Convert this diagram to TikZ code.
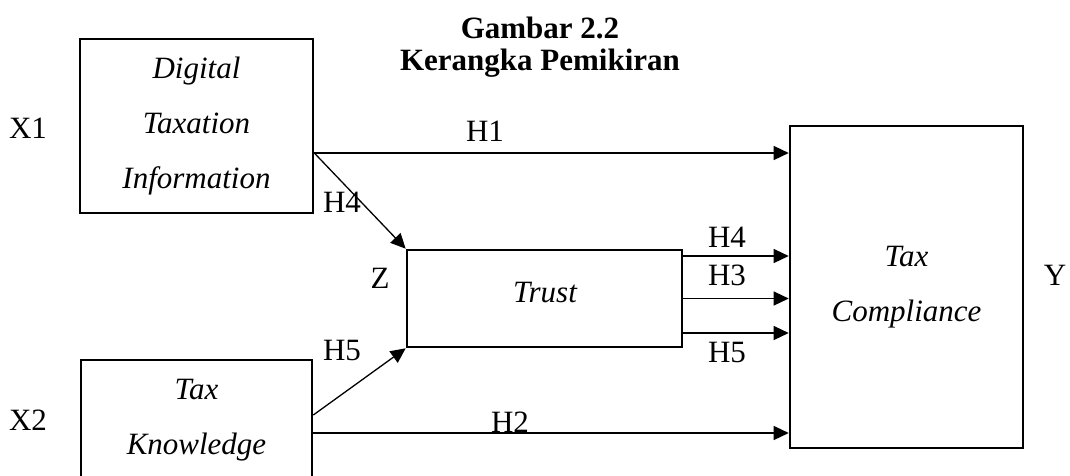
\documentclass[tikz,border=0pt]{standalone}
\usepackage{fontspec}
\setmainfont{Liberation Serif}
\usetikzlibrary{arrows.meta,calc}
\begin{document}
\begin{tikzpicture}[x=1pt,y=-1pt,
  every node/.style={font=\fontsize{31}{55}\selectfont},
  box/.style={draw=black,line width=2.6pt,align=center,inner sep=0pt,font=\fontsize{31}{55}\selectfont\itshape},
  lbl/.style={inner sep=0pt},
  arr/.style={line width=1.3pt,-{Triangle[length=15pt,width=14pt]}}]
\useasboundingbox (0,0) rectangle (1070,475);
\clip (0,0) rectangle (1070,475);
% title
\node[lbl,font=\fontsize{31}{33}\selectfont\bfseries] (t1) at (540,28) {Gambar 2.2};
\node[lbl,font=\fontsize{31}{33}\selectfont\bfseries] (t2) at (540,63) {Kerangka Pemikiran};
% boxes
\node[box,minimum width=233pt,minimum height=174pt] (dti) at (196.5,126) {Digital\\Taxation\\Information};
\node[box,minimum width=231pt,minimum height=120pt] (tk) at (196.5,420) {Tax\\Knowledge};
\node[box,minimum width=275pt,minimum height=97pt] (tr) at (544.5,298.5) {};
\node[lbl,font=\fontsize{31}{55}\selectfont\itshape] (trt) at (545,293) {Trust};
\node[box,minimum width=233pt,minimum height=322pt] (tc) at (906.5,287) {Tax\\Compliance};
% variable labels
\node[lbl] (x1) at (28,128) {X1};
\node[lbl] (x2) at (28,420) {X2};
\node[lbl] (z) at (380,278) {Z};
\node[lbl] (y) at (1055,275) {Y};
% connectors
\coordinate (s1) at ([yshift=-27pt]dti.east);
\draw[arr] (s1) -- (s1 -| tc.west);
\draw[arr] (s1) -- (tr.north west);
\coordinate (s5) at ([yshift=5pt]tk.east);
\draw[arr] (s5) -- (tr.south west);
\coordinate (s2) at ([yshift=-13pt]tk.east);
\draw[arr] (s2) -- (s2 -| tc.west);
\coordinate (r4) at ([yshift=42.5pt]tr.east);
\coordinate (r3) at (tr.east);
\coordinate (r5) at ([yshift=-34.5pt]tr.east);
\draw[arr] (r4) -- (r4 -| tc.west);
\draw[arr] (r3) -- (r3 -| tc.west);
\draw[arr] (r5) -- (r5 -| tc.west);
% hypothesis labels
\node[lbl] (h1) at (485,131) {H1};
\node[lbl] (h4a) at (342,202) {H4};
\node[lbl] (h5a) at (342,350) {H5};
\node[lbl] (h2) at (510,422) {H2};
\node[lbl] (h4b) at (727,237) {H4};
\node[lbl] (h3) at (727,275) {H3};
\node[lbl] (h5b) at (727,352) {H5};
\end{tikzpicture}
\end{document}
